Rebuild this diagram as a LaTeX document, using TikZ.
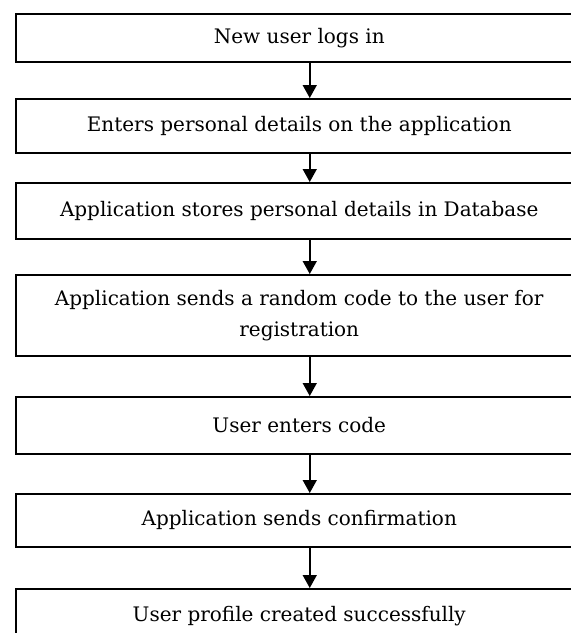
\documentclass[tikz,border=0pt]{standalone}
\usepackage{fontspec}
\setmainfont{DejaVu Serif}
\usetikzlibrary{arrows.meta, positioning}

\begin{document}
\begin{tikzpicture}[x=1pt, y=-1pt,
    every node/.style={font=\fontsize{20}{31}\selectfont},
    stepbox/.style={draw, line width=1.5pt, minimum width=567pt, inner sep=0pt, align=center, anchor=north west},
    flow/.style={line width=1.5pt, -{Triangle[width=14pt, length=13pt]}}]
  \useasboundingbox (0,0) rectangle (571,633);
  \clip (0,0) rectangle (571,633);
  % steps, top to bottom
  \node[stepbox, minimum height=48pt] (login) at (15,13) {New user logs in};
  \node[stepbox, minimum height=54pt] (details) at (15,98) {Enters personal details on the application};
  \node[stepbox, minimum height=56pt] (store) at (15,182) {Application stores personal details in Database};
  \node[stepbox, minimum height=81pt] (code) at (15,274) {Application sends a random code to the user for\\registration};
  \node[stepbox, minimum height=57pt] (enter) at (15,396) {User enters code};
  \node[stepbox, minimum height=53pt] (confirm) at (15,493) {Application sends confirmation};
  \node[stepbox, minimum height=54pt] (profile) at (15,588) {User profile created successfully};
  % arrows
  \draw[flow] ([xshift=10.5pt]login.south) -- ([xshift=10.5pt]details.north);
  \draw[flow] ([xshift=10.5pt]details.south) -- ([xshift=10.5pt]store.north);
  \draw[flow] ([xshift=10.5pt]store.south) -- ([xshift=10.5pt]code.north);
  \draw[flow] ([xshift=10.5pt]code.south) -- ([xshift=10.5pt]enter.north);
  \draw[flow] ([xshift=10.5pt]enter.south) -- ([xshift=10.5pt]confirm.north);
  \draw[flow] ([xshift=10.5pt]confirm.south) -- ([xshift=10.5pt]profile.north);
\end{tikzpicture}
\end{document}
